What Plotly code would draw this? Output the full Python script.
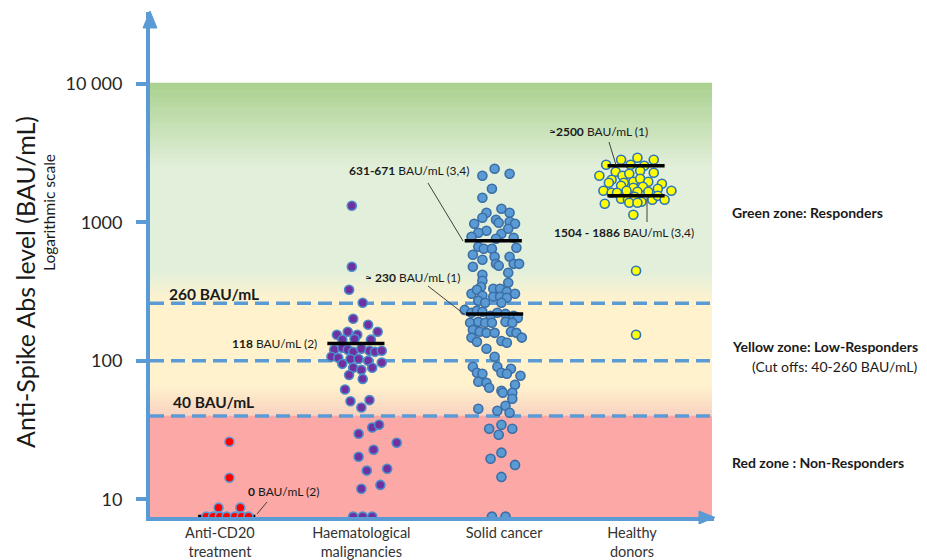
import plotly.graph_objects as go

# ---------------- data ----------------
categories = ["Anti-CD20<br>treatment", "Haematological<br>malignancies", "Solid cancer", "Healthy<br>donors"]
cat_pos = [0, 1, 2, 3]
cat_label_pos = [-0.03, 1.01, 2.06, 3.0]

# '0 BAU/mL' results are plotted on the axis floor (7.5)
anti_jitter = [0.04, 0.04, -0.04, 0.12, -0.13, -0.08, -0.03, 0.02, 0.08, 0.13, 0.18]
anti_values = [26, 14.3, 8.7, 8.7, 7.5, 7.5, 7.5, 7.5, 7.5, 7.5, 7.5]

haem_jitter = [-0.06, -0.06, -0.08, 0.02, -0.05, 0.06, -0.17, -0.09, -0.02, 0.13,
               -0.13, -0.04, 0.08, -0.19, -0.13, -0.09, -0.05, 0.01, 0.07, 0.11,
               0.16, -0.21, -0.16, -0.07, -0.01, 0.06, 0.16, -0.13, -0.05, 0.01,
               0.09, -0.08, 0.02, -0.11, -0.07, 0.07, 0.01, 0.09, 0.14, -0.01,
               0.27, 0.10, -0.01, 0.20, 0.05, 0.15, 0.01, -0.05, 0.02, 0.09]
haem_values = [1315, 477, 326, 262, 201, 182, 154, 162, 154, 162,
               142, 144, 142, 120, 124, 120, 116, 122, 118, 116,
               118, 107, 105, 103, 103, 100, 97, 95, 89, 86,
               89, 79, 74, 62, 51, 52, 46, 33, 34.5, 29.7,
               25.6, 22.8, 20.3, 16.6, 16.1, 12.7, 11.9, 7.5, 7.5, 7.5]

solid_jitter = [-0.01, -0.10, 0.10, -0.03, -0.10, 0.04, -0.07, 0.10, -0.10, 0.00,
                -0.16, 0.02, 0.10, 0.14, -0.07, 0.04, 0.09, -0.13, -0.18, 0.00,
                0.13, -0.13, -0.09, -0.03, 0.15, -0.17, -0.01, -0.10, 0.10, 0.00,
                0.02, 0.13, 0.17, -0.17, 0.09, -0.10, -0.10, 0.09, -0.11, -0.02,
                0.03, 0.08, 0.14, -0.18, -0.14, -0.10, -0.02, 0.03, 0.08, -0.13,
                0.04, -0.08, -0.23, -0.18, -0.14, -0.10, -0.04, 0.01, 0.07, 0.13,
                0.16, -0.19, -0.13, -0.08, -0.03, 0.07, 0.12, -0.17, -0.12, -0.07,
                -0.01, 0.11, 0.15, -0.18, -0.14, 0.04, 0.08, 0.19, -0.07, -0.01,
                -0.17, 0.01, 0.11, -0.14, -0.10, 0.04, 0.08, 0.18, -0.13, -0.07,
                -0.05, 0.14, 0.04, 0.05, 0.12, 0.12, 0.07, -0.13, 0.01, 0.10,
                -0.05, 0.04, 0.12, 0.02, 0.04, -0.04, 0.14, 0.04, -0.03, 0.07]
solid_values = [2432, 2167, 2239, 1745, 1503, 1251, 1172, 1172, 1077, 1042,
                975, 991, 1009, 975, 868, 826, 898, 840, 786, 760,
                773, 665, 644, 644, 655, 582, 564, 536, 564, 501,
                485, 501, 501, 477, 432, 418, 378, 366, 342, 331,
                331, 315, 305, 305, 326, 295, 290, 290, 285, 271,
                262, 262, 233, 222, 230, 226, 211, 222, 218, 211,
                204, 188, 191, 188, 188, 191, 188, 167, 162, 159,
                159, 162, 159, 147, 137, 139, 135, 147, 122, 107,
                90.5, 90.5, 87.5, 82, 80.5, 82, 80.5, 78, 70.5, 69.4,
                63.8, 67.1, 60.7, 58.7, 58.7, 53.2, 47.3, 45.0, 43.6, 42.1,
                32.3, 34.5, 32.3, 29.2, 21.7, 19.6, 17.7, 14.5, 7.5, 7.5]

healthy_jitter = [-0.19, -0.08, 0.04, 0.16, -0.01, 0.09, -0.12, 0.06, 0.16, -0.24,
                  -0.07, -0.02, -0.15, 0.01, 0.06, 0.12, -0.17, -0.06, -0.08, 0.22,
                  0.01, 0.08, 0.19, -0.21, -0.15, -0.11, -0.04, 0.04, 0.12, 0.29,
                  -0.08, -0.03, 0.02, 0.07, 0.15, 0.19, 0.24, -0.20, -0.02, 0.04,
                  0.01, 0.03, 0.03]
healthy_values = [2600, 2826, 2924, 2826, 2600, 2558, 2317, 2355, 2277, 2167,
                  2167, 2239, 2028, 1960, 2061, 1960, 1928, 1928, 1835, 1897,
                  1775, 1804, 1745, 1688, 1633, 1633, 1688, 1660, 1660, 1688,
                  1479, 1453, 1528, 1406, 1453, 1553, 1453, 1361, 1383, 1383,
                  1133, 447, 154]

median_group = [0, 1, 2, 2, 3, 3]
median_offset = [0.02, -0.03, -0.02, -0.01, 0.03, 0.03]
median_values = [7.5, 133, 735, 218, 2558, 1553]

thresholds = [260, 100, 40]

y_tickvals = [10, 100, 1000, 10000]
y_ticktext = ["10", "100", "1000", "10 000"]

# ---------------- layout helpers (screen pixel -> paper) ----------------
# the page body has an 8px default margin, so the figure is drawn 8px in from the corner
OFF = 8
SCR_W, SCR_H = 927, 560
W, H = SCR_W - OFF, SCR_H - OFF
PLOT_L, PLOT_R, PLOT_T, PLOT_B = 150, 714, 12, 517          # plot area in screen pixels
L, R, T, B = PLOT_L - OFF, SCR_W - PLOT_R, PLOT_T - OFF, SCR_H - PLOT_B
PW, PH = PLOT_R - PLOT_L, PLOT_B - PLOT_T
XMIN, XMAX = -0.544, 3.603
YMIN, YMAX = 0.872, 4.518


def pxx(p):
    return (p - PLOT_L) / PW


def pxy(p):
    return (PLOT_B - p) / PH


BLUE = "#5B9BD5"
FONT = "Lato, 'Open Sans', sans-serif"

fig = go.Figure()

# background zone bands (gradients built from thin rectangles)
shapes = []


def band(y0, y1, c0, c1, n=1):
    for i in range(n):
        t0 = i / n
        t1 = (i + 1) / n
        tm = (t0 + t1) / 2
        col = tuple(round(c0[k] + (c1[k] - c0[k]) * tm) for k in range(3))
        ya = y0 + (y1 - y0) * t0
        yb = y0 + (y1 - y0) * t1
        shapes.append(dict(type="rect", xref="paper", yref="paper",
                           x0=0, x1=pxx(712), y0=pxy(yb) - 0.0005, y1=pxy(ya) + 0.0005,
                           fillcolor="rgb(%d,%d,%d)" % col, line=dict(width=0),
                           layer="below"))


G_DARK = (169, 209, 142)
G_LIGHT = (226, 239, 218)
CREAM = (255, 242, 204)
PINKISH = (248, 208, 190)
RED = (251, 168, 166)
band(83, 168, G_DARK, G_LIGHT, 40)
band(168, 272, G_LIGHT, G_LIGHT, 1)
band(272, 302, G_LIGHT, CREAM, 20)
band(302, 386, CREAM, CREAM, 1)
band(386, 416, CREAM, PINKISH, 20)
band(416, 517, RED, RED, 1)

# arrowheads on the axes
shapes.append(dict(type="path", xref="paper", yref="paper",
                   path="M %f %f L %f %f L %f %f Z" % (pxx(143), pxy(28), pxx(157), pxy(28), pxx(150), pxy(11)),
                   fillcolor=BLUE, line=dict(color=BLUE, width=1)))
shapes.append(dict(type="path", xref="paper", yref="paper",
                   path="M %f %f L %f %f L %f %f Z" % (pxx(699), pxy(511), pxx(699), pxy(524), pxx(715), pxy(517.5)),
                   fillcolor=BLUE, line=dict(color=BLUE, width=1)))

# leader lines for the annotations
leaders = [((428, 183), (463, 241)), ((428, 286), (464, 314)), ((609, 142), (616, 165)),
           ((647, 197), (647, 222)), ((257, 514), (267, 502))]
for (a, b) in leaders:
    shapes.append(dict(type="line", xref="paper", yref="paper",
                       x0=pxx(a[0]), y0=pxy(a[1]), x1=pxx(b[0]), y1=pxy(b[1]),
                       line=dict(color="#404040", width=1)))

# dashed cut-off lines
for v in thresholds:
    fig.add_trace(go.Scatter(x=[XMIN, XMIN + (712 - PLOT_L) / PW * (XMAX - XMIN)], y=[v, v], mode="lines",
                             line=dict(color=BLUE, width=3.5, dash="14px,7px"),
                             hoverinfo="skip", showlegend=False))

HW = 0.21
# anti-CD20 median (behind its dots)
g, o, v = median_group[0], median_offset[0], median_values[0]
fig.add_trace(go.Scatter(x=[cat_pos[g] + o - HW, cat_pos[g] + o + HW], y=[v, v], mode="lines",
                         line=dict(color="black", width=3.5), hoverinfo="skip", showlegend=False))

groups = [
    (0, anti_jitter, anti_values, "#FF0000", "#5B9BD5"),
    (1, haem_jitter, haem_values, "#7030A0", "#4A8CCB"),
    (2, solid_jitter, solid_values, "#5B9BD5", "#3A6EA5"),
    (3, healthy_jitter, healthy_values, "#FFFF00", "#2E75B6"),
]
for gi, jit, vals, fill, edge in groups:
    fig.add_trace(go.Scatter(x=[cat_pos[gi] + j for j in jit], y=vals, mode="markers",
                             marker=dict(size=9, color=fill, line=dict(color=edge, width=1.6)),
                             name=categories[gi].replace("<br>", " "), showlegend=False))

for g, o, v in zip(median_group[1:], median_offset[1:], median_values[1:]):
    fig.add_trace(go.Scatter(x=[cat_pos[g] + o - HW, cat_pos[g] + o + HW], y=[v, v], mode="lines",
                             line=dict(color="black", width=3.5), hoverinfo="skip", showlegend=False))

# ---------------- annotations ----------------
ann = []


def text(x, y, s, size=12, anchor="left", color="#1a1a1a", angle=0):
    ann.append(dict(xref="paper", yref="paper", x=pxx(x), y=pxy(y), text=s, showarrow=False,
                    xanchor=anchor, yanchor="middle", textangle=angle,
                    font=dict(family=FONT, size=size, color=color)))


text(167, 294, "<b>260 BAU/mL</b>", 15.5)
text(171, 402, "<b>40 BAU/mL</b>", 15.5)
text(230, 343, "<b>118</b> BAU/mL (2)", 12)
text(246, 491, "<b>0</b> BAU/mL (2)", 12)
text(363, 277, "≈ <b>230</b> BAU/mL (1)", 12)
text(347, 171, "<b>631-671</b> BAU/mL (3,4)", 12)
text(547, 131, "≈<b>2500</b> BAU/mL (1)", 12)
text(552, 233, "<b>1504 - 1886</b> BAU/mL (3,4)", 12)
text(730, 212, "<b>Green zone: Responders</b>", 14)
text(730, 347, "<b>Yellow zone: Low-Responders</b>", 14)
text(750, 366, "(Cut offs: 40-260 BAU/mL)", 14)
text(730, 462, "<b>Red zone : Non-Responders</b>", 14)
text(25, 282, "Anti-Spike Abs level (BAU/mL)", 25, anchor="center", angle=-90)
text(49, 213, "Logarithmic scale", 15.5, anchor="center", angle=-90)

fig.update_layout(
    width=W, height=H, autosize=False,
    margin=dict(l=L, r=R, t=T, b=B, pad=0),
    paper_bgcolor="white", plot_bgcolor="white",
    font=dict(family=FONT, color="#262626"),
    shapes=shapes, annotations=ann,
    xaxis=dict(range=[XMIN, XMAX], showgrid=False, zeroline=False, automargin=False,
               showline=True, linecolor=BLUE, linewidth=4,
               tickvals=cat_label_pos, ticktext=categories, ticks="",
               tickfont=dict(size=14.5, color="#333333", family=FONT)),
    yaxis=dict(type="log", range=[YMIN, YMAX], showgrid=False, zeroline=False, automargin=False,
               showline=True, linecolor=BLUE, linewidth=4,
               tickvals=y_tickvals, ticktext=y_ticktext,
               ticks="outside", ticklen=10, tickwidth=4, tickcolor=BLUE,
               ticklabelstandoff=10,
               tickfont=dict(size=18, color="#262626", family=FONT)),
)

fig.write_html("out.html")
